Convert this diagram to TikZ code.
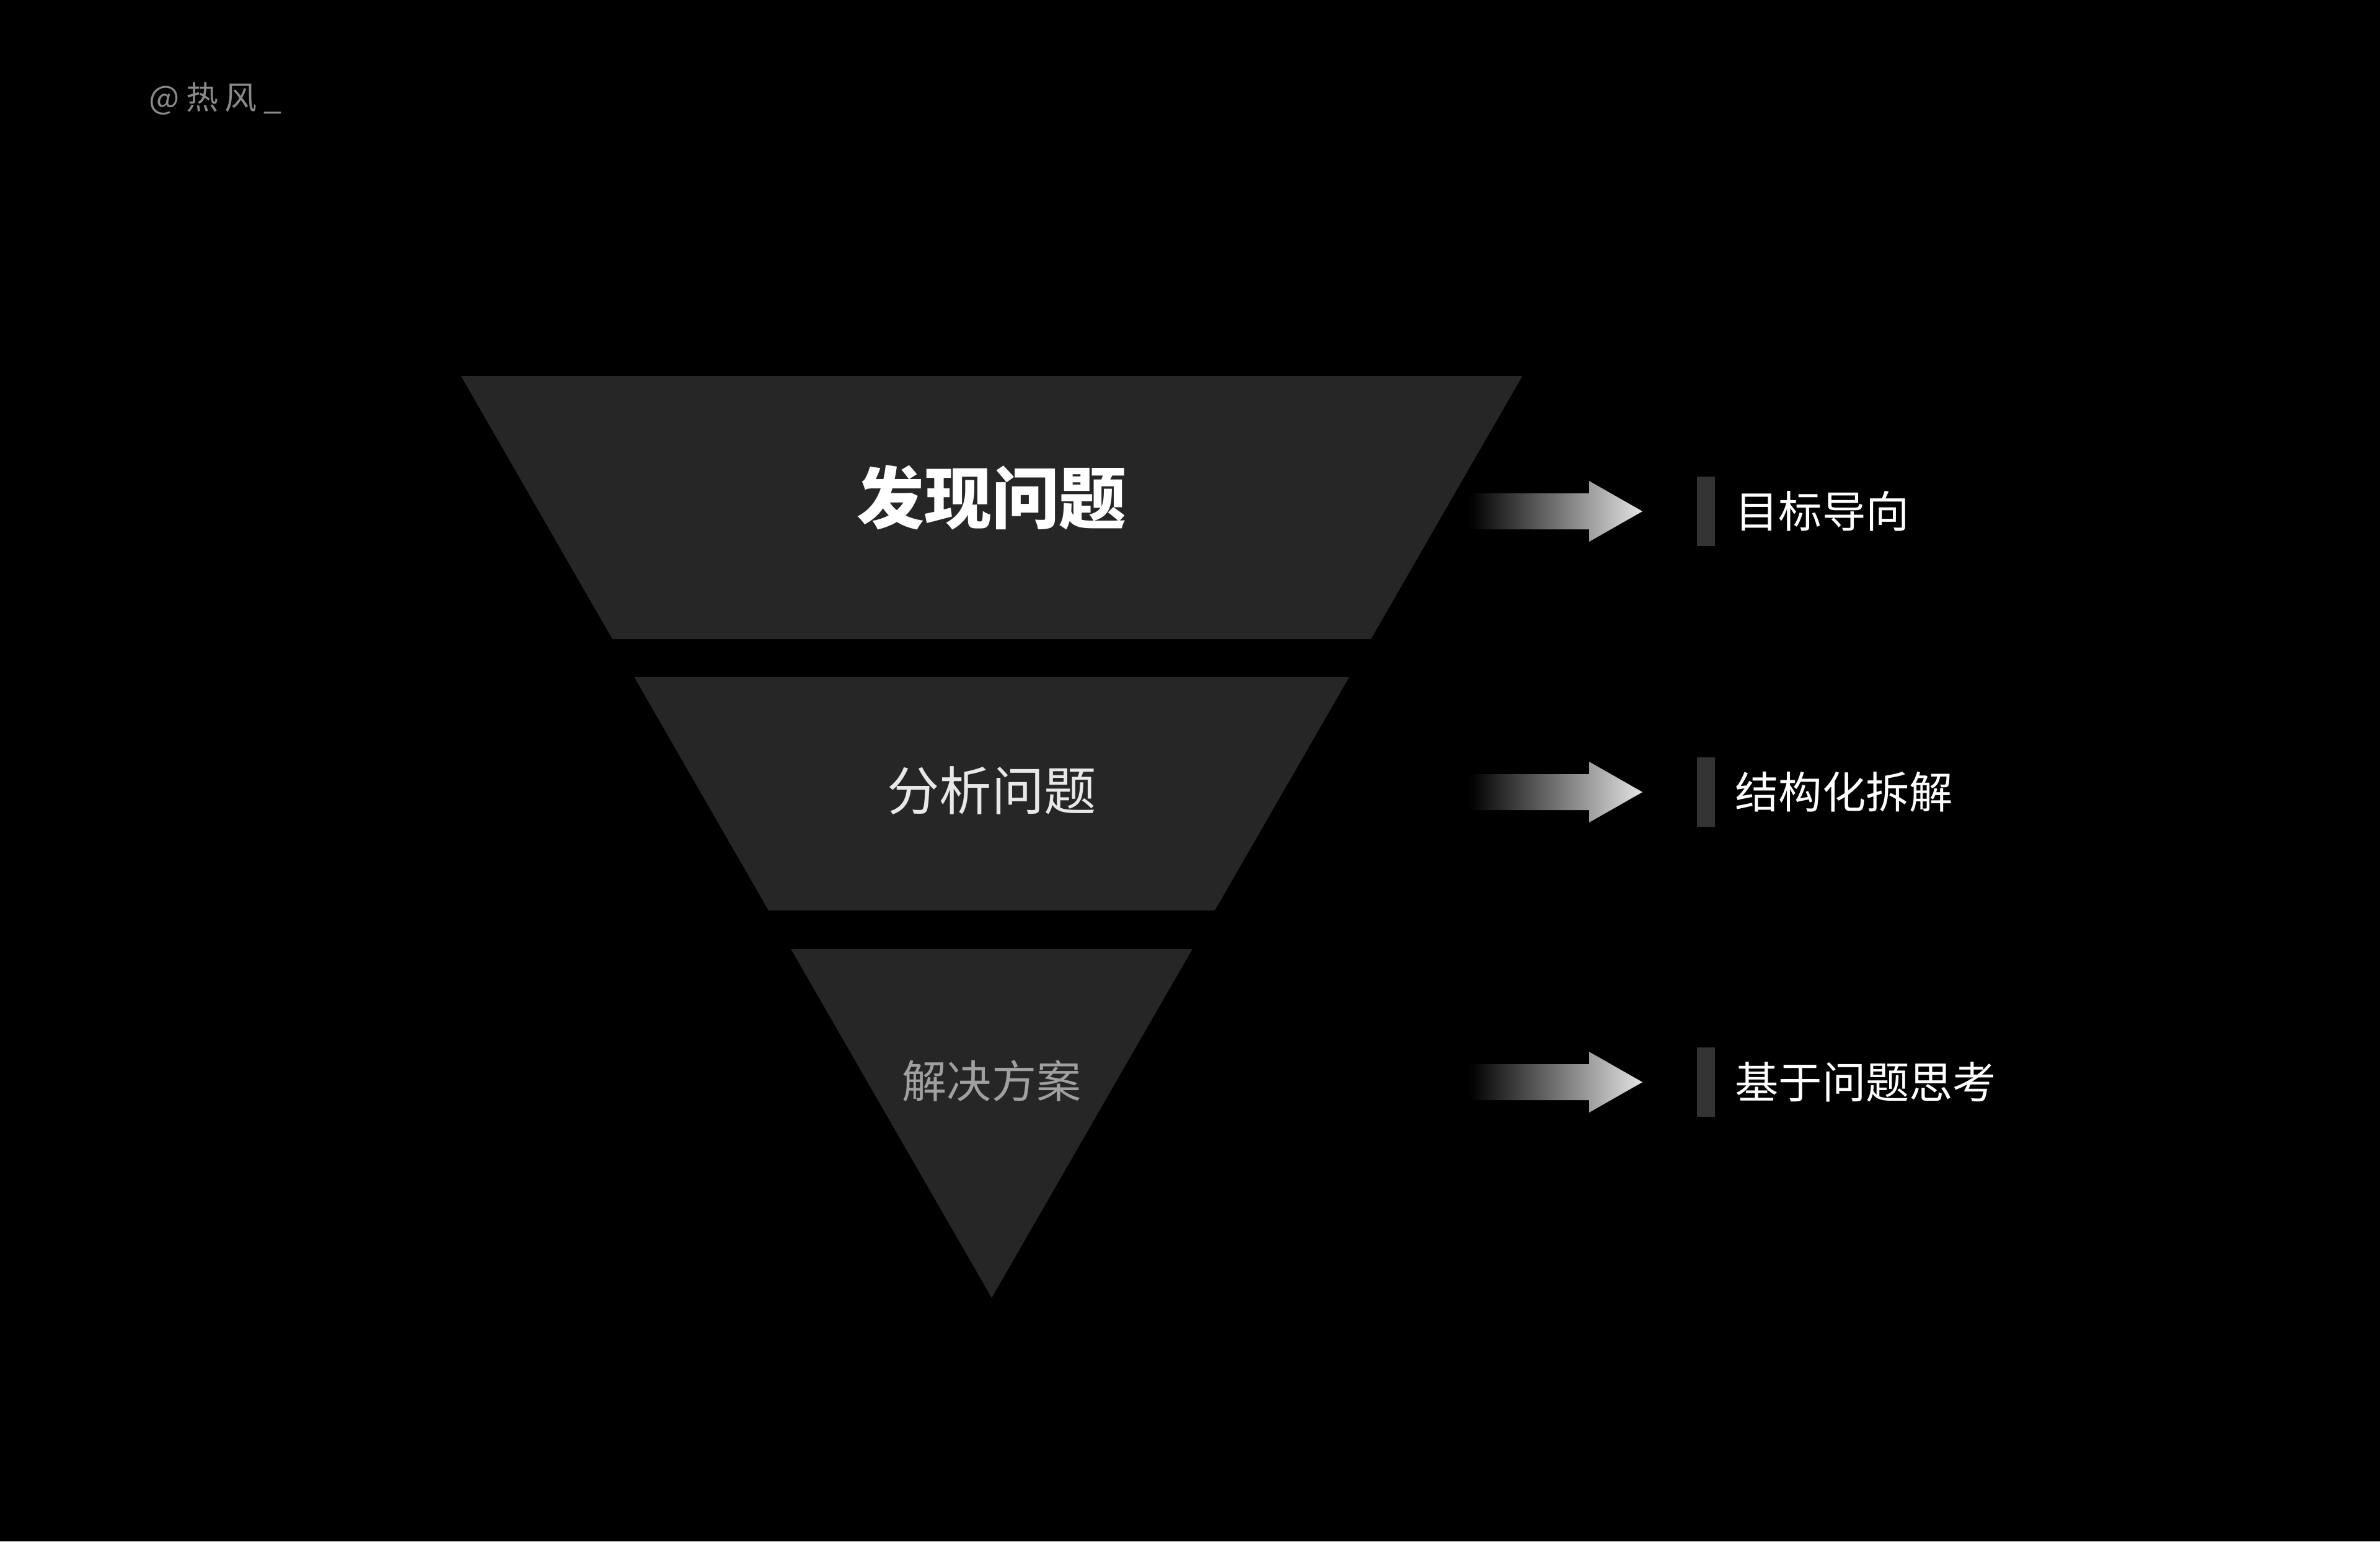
\documentclass[tikz,border=0pt]{standalone}
\usepackage{fontspec}
\setmainfont{Noto Sans CJK SC}
\newfontfamily\markfont[LetterSpace=20]{Noto Sans CJK SC}
\usetikzlibrary{positioning}
\definecolor{funnelColor}{HTML}{262626}
\definecolor{barColor}{HTML}{333333}
\definecolor{markColor}{HTML}{8A8A8A}
\definecolor{midColor}{HTML}{E8E8E8}
\definecolor{lowColor}{HTML}{A0A0A0}
\definecolor{arrowColor}{HTML}{E4E4E4}

\begin{document}
\begin{tikzpicture}[
		tier/.style={fill=funnelColor},
		tierlbl/.style={align=center, inner sep=0pt},
		bar/.style={fill=barColor, minimum width=0.29cm, minimum height=1.12cm, inner sep=0pt},
		goal/.style={font=\fontsize{20pt}{24pt}\selectfont, text=white, inner sep=0pt},
		fade/.style={left color=black, right color=arrowColor}
		]
		% Background
		\fill[black] (0,0) rectangle (38.4,-24.87);
		\node[anchor=west, inner sep=0pt, text=markColor, font=\markfont\fontsize{14.8pt}{16pt}\selectfont] (mark) at (2.40,-1.59) {@热风\_};

		% Funnel tiers
		\fill[tier] (7.44,-6.07) -- (24.56,-6.07) -- (22.12,-10.31) -- (9.88,-10.31) -- cycle;
		\fill[tier] (10.23,-10.92) -- (21.77,-10.92) -- (19.60,-14.69) -- (12.40,-14.69) -- cycle;
		\fill[tier] (12.76,-15.31) -- (19.24,-15.31) -- (16.00,-20.94) -- cycle;
		\node[tierlbl, text=white, font=\fontsize{31pt}{34pt}\selectfont\bfseries] (find) at (16,-8.03) {发现问题};
		\node[tierlbl, text=midColor, font=\fontsize{24pt}{28pt}\selectfont] (analyse) at (16,-12.76) {分析问题};
		\node[tierlbl, text=lowColor, font=\fontsize{20.5pt}{24pt}\selectfont] (solve) at (16,-17.44) {解决方案};

		% Arrows, bars and goals
		\foreach \y/\txt [count=\i] in {8.25/目标导向, 12.78/结构化拆解, 17.46/基于问题思考} {
			\coordinate (a\i) at (23.71,-\y);
			\shade[fade] ([yshift=2.9mm]a\i) -- ([shift={(1.93,0.29)}]a\i) -- ([shift={(1.93,0.49)}]a\i)
				-- ([shift={(2.79,0)}]a\i) -- ([shift={(1.93,-0.49)}]a\i) -- ([shift={(1.93,-0.29)}]a\i)
				-- ([yshift=-2.9mm]a\i) -- cycle;
			\node[bar] (bar\i) at (27.525,-\y) {};
			\node[goal, right=0.31cm of bar\i] (goal\i) {\txt};
		}
	\end{tikzpicture}
\end{document}
